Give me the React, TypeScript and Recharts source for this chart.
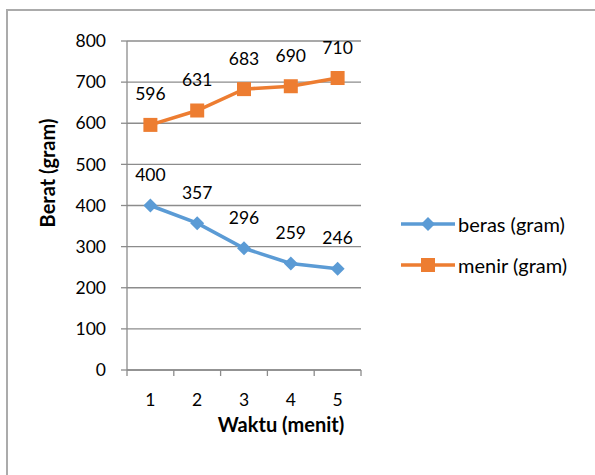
import React from 'react';
import { LineChart, Line, XAxis, YAxis, CartesianGrid, LabelList } from 'recharts';

const MINUTES = ['1', '2', '3', '4', '5'];
const BERAS = [400, 357, 296, 259, 246];
const MENIR = [596, 631, 683, 690, 710];
const Y_TICKS = [0, 100, 200, 300, 400, 500, 600, 700, 800];

const BLUE = '#5B9BD5';
const ORANGE = '#ED7D31';
const GRID = '#8C8C8C';
const FONT = 'Lato, "Open Sans", sans-serif';

const data = MINUTES.map((m, i) => ({ minute: m, beras: BERAS[i], menir: MENIR[i] }));

// plot area
const PLOT_LEFT = 127;
const PLOT_RIGHT = 361;
const PLOT_TOP = 41;
const PLOT_BOTTOM = 370;
const BAND = (PLOT_RIGHT - PLOT_LEFT) / MINUTES.length;

const Diamond = (props: any) => {
  const { cx, cy } = props;
  if (cx == null || cy == null) return null;
  const r = 7;
  return <path d={`M${cx},${cy - r}L${cx + r},${cy}L${cx},${cy + r}L${cx - r},${cy}Z`} fill={BLUE} />;
};

const Square = (props: any) => {
  const { cx, cy } = props;
  if (cx == null || cy == null) return null;
  const s = 7;
  return <rect x={cx - s} y={cy - s} width={s * 2} height={s * 2} fill={ORANGE} />;
};

const PointLabel = (props: any) => {
  const { x, y, value } = props;
  return (
    <text x={x} y={y - 31} textAnchor="middle" dominantBaseline="central" fontSize={17.5} fontFamily={FONT} fill="#000">
      {value}
    </text>
  );
};

// category tick: label at band centre, tick marks on the band edges like Excel
const XTick = (props: any) => {
  const { x, payload, index } = props;
  const left = x - BAND / 2;
  const isLast = index === MINUTES.length - 1;
  return (
    <g>
      <line x1={left} x2={left} y1={PLOT_BOTTOM} y2={PLOT_BOTTOM + 6} stroke={GRID} strokeWidth={1.3} />
      {isLast && <line x1={x + BAND / 2} x2={x + BAND / 2} y1={PLOT_BOTTOM} y2={PLOT_BOTTOM + 6} stroke={GRID} strokeWidth={1.3} />}
      <text x={x} y={PLOT_BOTTOM + 29} textAnchor="middle" dominantBaseline="central" fontSize={17.5} fontFamily={FONT} fill="#000">
        {payload.value}
      </text>
    </g>
  );
};

const LegendItem = ({ color, label, square, top }: { color: string; label: string; square?: boolean; top: number }) => (
  <div style={{ position: 'absolute', left: 400, top: top - 12, height: 24, display: 'flex', alignItems: 'center' }}>
    <svg width={56} height={24}>
      <line x1={1} x2={55} y1={12} y2={12} stroke={color} strokeWidth={3.5} />
      {square ? (
        <rect x={21} y={5} width={14} height={14} fill={color} />
      ) : (
        <path d="M28,5L35,12L28,19L21,12Z" fill={color} />
      )}
    </svg>
    <span style={{ marginLeft: 2, fontSize: 20, fontFamily: FONT, color: '#000' }}>{label}</span>
  </div>
);

export default function App() {
  return (
    <div style={{ position: 'absolute', left: 0, top: 0, width: 595, height: 475, overflow: 'hidden', background: '#fff' }}>
      <div style={{ position: 'absolute', left: 6, top: 9, width: 620, height: 500, border: '2px solid #ABABAB' }} />
      <div style={{ position: 'absolute', left: 0, top: 0 }}>
        <LineChart
          width={595}
          height={475}
          data={data}
          margin={{ top: PLOT_TOP, right: 595 - PLOT_RIGHT, bottom: 475 - PLOT_BOTTOM - 30, left: 0 }}
        >
          <CartesianGrid vertical={false} stroke={GRID} strokeWidth={1.3} />
          <XAxis
            dataKey="minute"
            height={30}
            padding={{ left: BAND / 2, right: BAND / 2 }}
            axisLine={{ stroke: GRID, strokeWidth: 1.3 }}
            tickLine={false}
            tick={<XTick />}
            interval={0}
          />
          <YAxis
            width={PLOT_LEFT}
            domain={[0, 800]}
            ticks={Y_TICKS}
            interval={0}
            axisLine={{ stroke: GRID, strokeWidth: 1.3 }}
            tickLine={{ stroke: GRID, strokeWidth: 1.3 }}
            tickSize={6}
            tickMargin={15}
            tick={{ fontSize: 17.5, fontFamily: FONT, fill: '#000' }}
          />
          <Line
            dataKey="beras"
            stroke={BLUE}
            strokeWidth={3.5}
            dot={<Diamond />}
            activeDot={false}
            isAnimationActive={false}
          >
            <LabelList dataKey="beras" content={<PointLabel />} />
          </Line>
          <Line
            dataKey="menir"
            stroke={ORANGE}
            strokeWidth={3.5}
            dot={<Square />}
            activeDot={false}
            isAnimationActive={false}
          >
            <LabelList dataKey="menir" content={<PointLabel />} />
          </Line>
        </LineChart>
      </div>
      <div
        style={{
          position: 'absolute', left: 47, top: 173, transform: 'translate(-50%, -50%) rotate(-90deg)',
          whiteSpace: 'nowrap', fontSize: 20, fontWeight: 'bold', fontFamily: FONT, color: '#000',
        }}
      >
        Berat (gram)
      </div>
      <div
        style={{
          position: 'absolute', left: 281, top: 424, transform: 'translate(-50%, -50%)',
          whiteSpace: 'nowrap', fontSize: 20, fontWeight: 'bold', fontFamily: FONT, color: '#000',
        }}
      >
        Waktu (menit)
      </div>
      <LegendItem color={BLUE} label="beras (gram)" top={224} />
      <LegendItem color={ORANGE} label="menir (gram)" top={265} square />
    </div>
  );
}
